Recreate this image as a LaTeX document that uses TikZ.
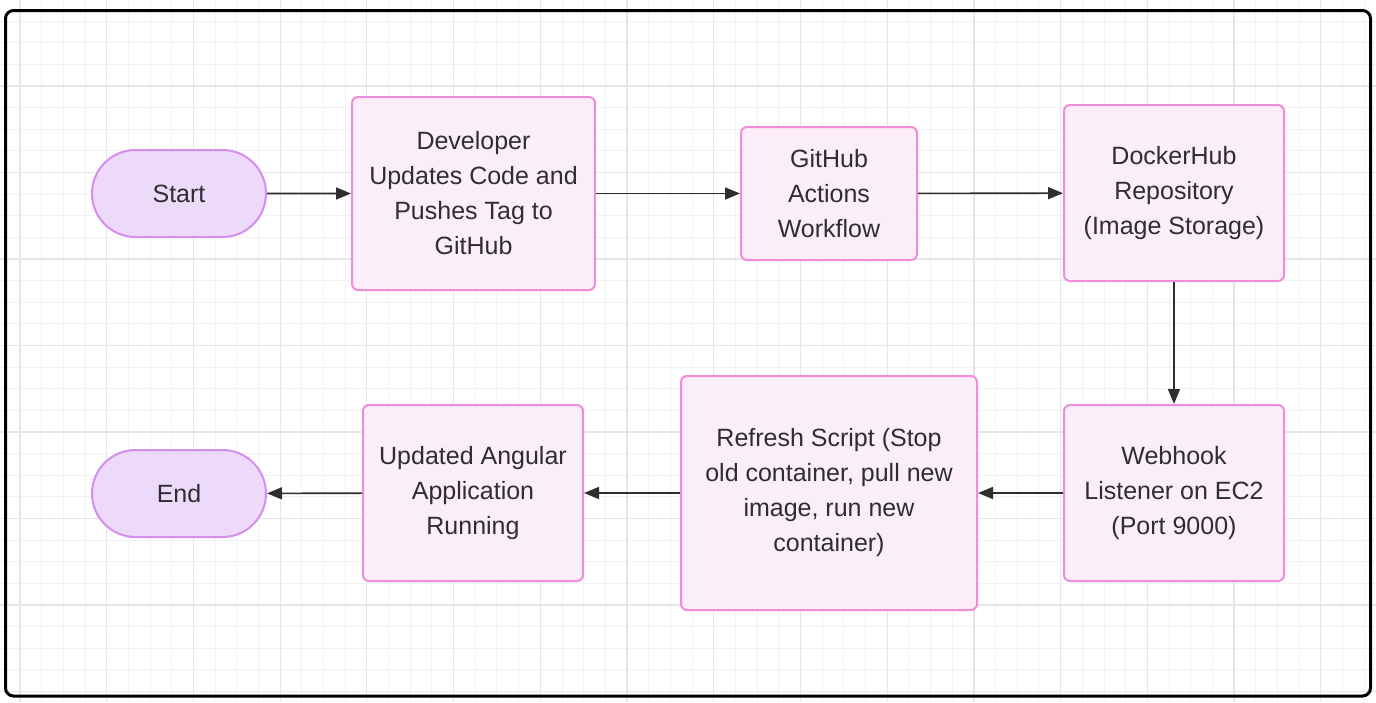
\documentclass[tikz,border=0pt]{standalone}
\usepackage{fontspec}
\setmainfont{Liberation Sans}
\usetikzlibrary{arrows.meta,shapes.misc}
\definecolor{txt}{HTML}{2E2E2E}
\definecolor{pfill}{HTML}{FCEEF8}
\definecolor{pdraw}{HTML}{F08CDC}
\definecolor{lfill}{HTML}{EDD9F9}
\definecolor{ldraw}{HTML}{D48EF0}
\definecolor{gminor}{HTML}{F2F2F2}
\definecolor{gmajor}{HTML}{E6E6E6}
\tikzset{
  procbox/.style={draw=pdraw, fill=pfill, line width=2pt, rounded corners=6pt,
    align=center, text=txt, font=\fontsize{25}{35}\selectfont, inner sep=0pt},
  termbox/.style={draw=ldraw, fill=lfill, line width=2pt, rounded rectangle,
    minimum width=174pt, minimum height=87pt, text=txt,
    font=\fontsize{25}{35}\selectfont, inner sep=0pt},
  flow/.style={draw=txt, line width=1.6pt, -{Triangle[length=15pt,width=12pt]}},
  gridminor/.style={draw=gminor, line width=1pt},
  gridmajor/.style={draw=gmajor, line width=1.2pt},
  frame/.style={draw=black, line width=3pt, rounded corners=8pt}
}
\begin{document}
\begin{tikzpicture}[x=1pt,y=-1pt]
\useasboundingbox (0,0) rectangle (1376,702);
\fill[white] (0,0) rectangle (1376,702);
% grid
\foreach \i in {0,...,64} {\draw[gridminor] ({-1.68+21.68*\i},0) -- ++(0,702);}
\foreach \i in {0,...,33} {\draw[gridminor] (0,{-0.625+21.625*\i}) -- ++(1376,0);}
\foreach \i in {0,...,15} {\draw[gridmajor] ({20+86.72*\i},0) -- ++(0,702);}
\foreach \i in {-1,...,7} {\draw[gridmajor] (0,{86+86.5*\i}) -- ++(1376,0);}
% frame
\draw[frame] (5.5,10.5) rectangle (1370.5,696);
% nodes
\node[termbox] (start) at (179,193.5) {Start};
\node[procbox, minimum width=243pt, minimum height=193pt] (dev) at (473.5,193.5)
  {Developer\\Updates Code and\\Pushes Tag to\\GitHub};
\node[procbox, minimum width=176pt, minimum height=133pt] (gha) at (829,193.5)
  {GitHub\\Actions\\Workflow};
\node[procbox, minimum width=220pt, minimum height=176pt] (dh) at (1174,193)
  {DockerHub\\Repository\\(Image Storage)};
\node[procbox, minimum width=220pt, minimum height=176pt] (wh) at (1174,493)
  {Webhook\\Listener on EC2\\(Port 9000)};
\node[procbox, minimum width=296pt, minimum height=234pt] (rs) at (829,493)
  {Refresh Script (Stop\\old container, pull new\\image, run new\\container)};
\node[procbox, minimum width=220pt, minimum height=176pt] (up) at (473,493)
  {Updated Angular\\Application\\Running};
\node[termbox] (end) at (179,493.5) {End};
% connectors
\draw[flow] (start) -- (dev);
\draw[flow] (dev) -- (gha);
\draw[flow] (gha) -- (dh);
\draw[flow] (dh) -- (wh);
\draw[flow] (wh) -- (rs);
\draw[flow] (rs) -- (up);
\draw[flow] (up) -- (end);
\end{tikzpicture}
\end{document}
